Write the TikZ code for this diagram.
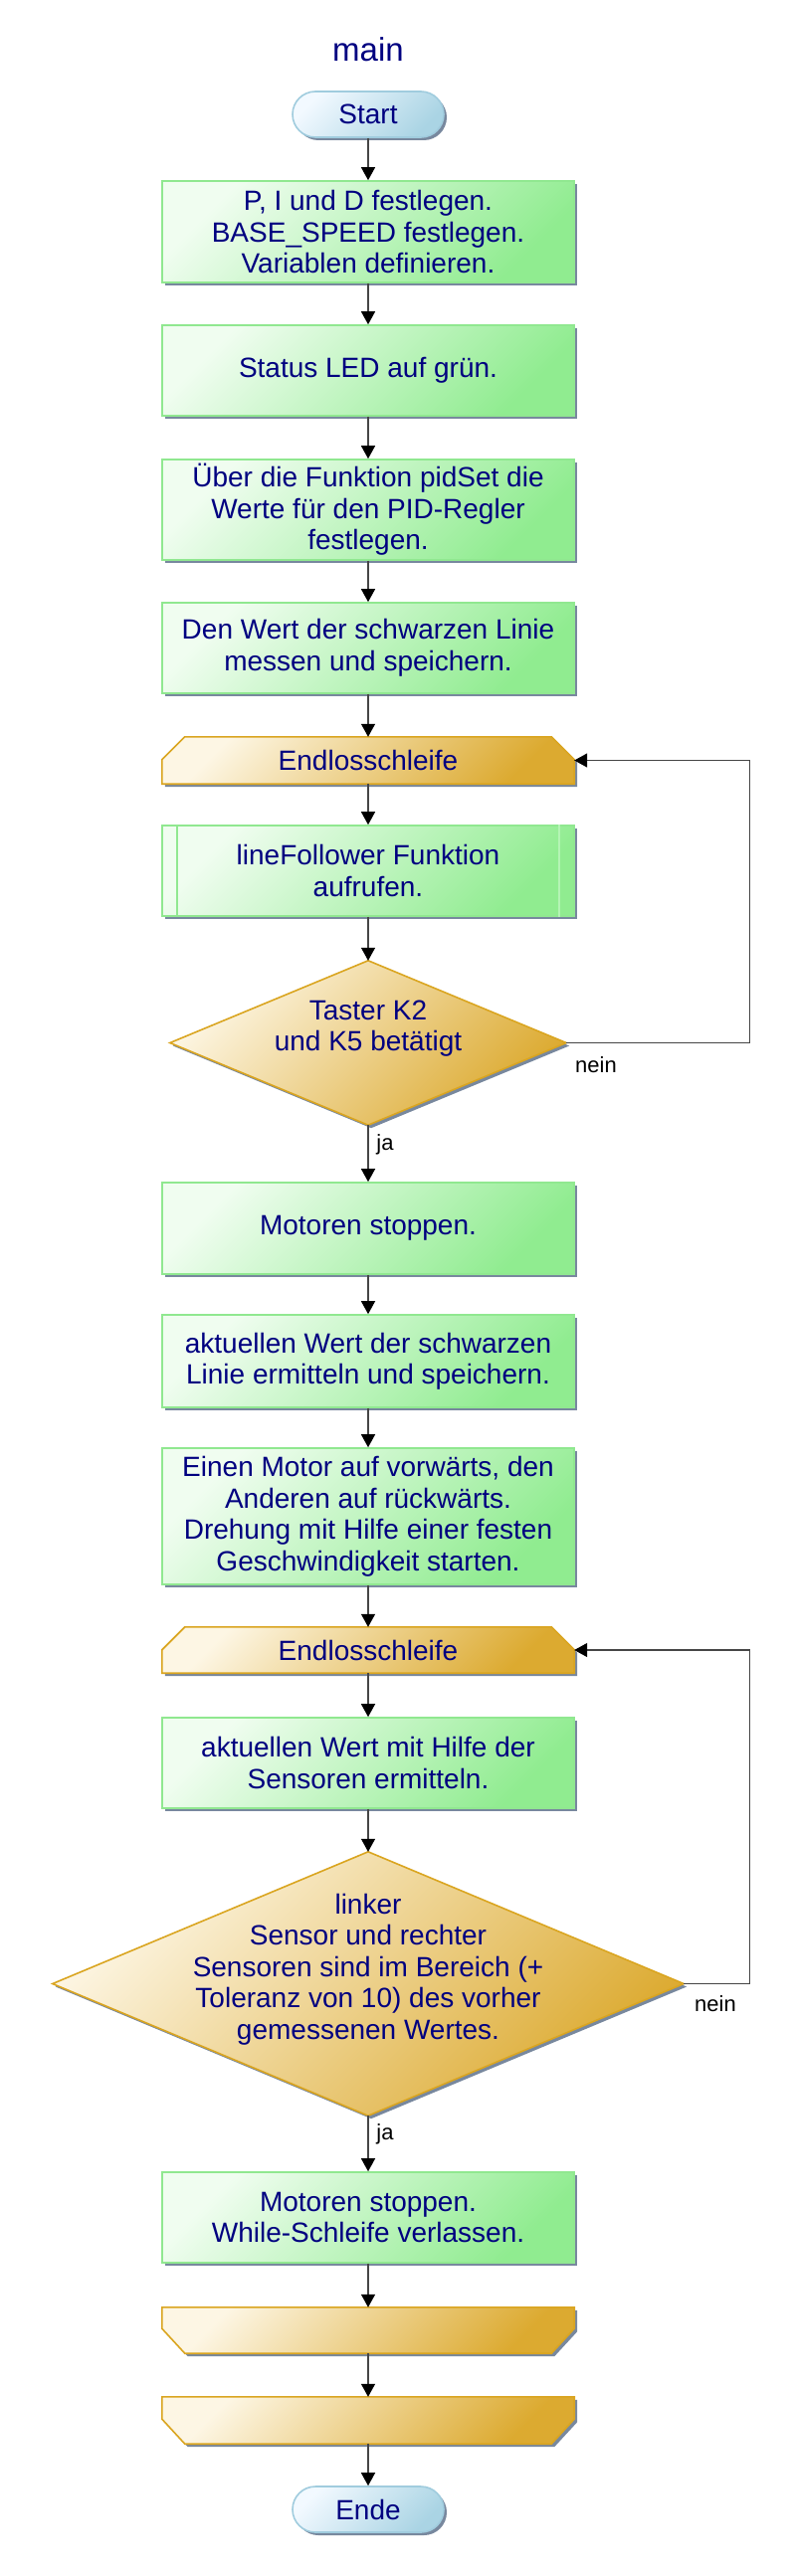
\documentclass[tikz,border=0pt]{standalone}
\usepackage{fontspec}
\setmainfont{Liberation Sans}
\usetikzlibrary{arrows.meta,shadows}
\definecolor{navytxt}{RGB}{0,0,128}
\definecolor{greenb}{RGB}{144,232,144}
\definecolor{greenin}{RGB}{180,244,180}
\definecolor{greenl}{RGB}{240,253,240}
\definecolor{greend}{RGB}{144,236,144}
\definecolor{goldb}{RGB}{218,165,32}
\definecolor{goldl}{RGB}{253,246,228}
\definecolor{goldd}{RGB}{220,170,48}
\definecolor{blueb}{RGB}{160,204,222}
\definecolor{bluel}{RGB}{242,249,255}
\definecolor{blued}{RGB}{170,212,228}
\definecolor{shadowc}{RGB}{120,136,158}
\definecolor{linec}{RGB}{70,70,70}
\pgfdeclarelayer{bg}
\pgfsetlayers{bg,main}
\begin{document}
\begin{tikzpicture}[x=1pt,y=-1pt,
  txt/.style={text=navytxt, font=\fontsize{28}{31.5}\selectfont, align=center, inner sep=0pt},
  shad/.style={drop shadow={shadow xshift=3pt, shadow yshift=-3pt, fill=shadowc, opacity=1}},
  gbox/.style={txt, shad, rectangle, draw=greenb, line width=1.6pt, top color=greenl, bottom color=greend, shading angle=45, minimum width=414pt},
  term/.style={txt, shad, rectangle, draw=blueb, line width=1.6pt, top color=bluel, bottom color=blued, shading angle=45, rounded corners=23pt, minimum width=152pt, minimum height=46pt},
  goldshape/.style={draw=goldb, line width=1.6pt, top color=goldl, bottom color=goldd, shading angle=45, shad},
  frame/.style={txt, rectangle, minimum width=414pt},
  flow/.style={draw=linec, line width=1.2pt, -{Triangle[length=13pt,width=14pt,color=black,fill=black]}},
  lbl/.style={text=black, font=\fontsize{22}{26}\selectfont, inner sep=0pt}
]
\useasboundingbox (0,0) rectangle (796,2590);

\node[text=navytxt, font=\fontsize{33}{38}\selectfont, inner sep=0pt] (title) at (370,50) {main};
\node[term] (start) at (370,115) {Start};
\node[gbox, minimum height=102pt] (b1) at (370,233) {P, I und D festlegen.\\BASE\_SPEED festlegen.\\Variablen definieren.};
\node[gbox, minimum height=91pt] (b2) at (370,372.5) {Status LED auf grün.};
\node[gbox, minimum height=101pt] (b3) at (370,512.5) {Über die Funktion pidSet die\\Werte für den PID-Regler\\festlegen.};
\node[gbox, minimum height=91pt] (b4) at (370,651.5) {Den Wert der schwarzen Linie\\messen und speichern.};
\node[frame, minimum height=47pt] (l1) at (370,764.5) {Endlosschleife};
\node[gbox, minimum height=91pt] (lf) at (370,875.5) {lineFollower Funktion\\aufrufen.};
\node[frame, minimum width=398pt, minimum height=165pt] (d1) at (370,1048.5) {};
\node[txt] (d1t) at (370,1034) {Taster K2\\und K5 betätigt};
\node[gbox, minimum height=92pt] (m1) at (370,1235) {Motoren stoppen.};
\node[gbox, minimum height=93pt] (a1) at (370,1368.5) {aktuellen Wert der schwarzen\\Linie ermitteln und speichern.};
\node[gbox, minimum height=137pt] (e1) at (370,1524.5) {Einen Motor auf vorwärts, den\\Anderen auf rückwärts.\\Drehung mit Hilfe einer festen\\Geschwindigkeit starten.};
\node[frame, minimum height=46pt] (l2) at (370,1659) {Endlosschleife};
\node[gbox, minimum height=91pt] (a2) at (370,1772.5) {aktuellen Wert mit Hilfe der\\Sensoren ermitteln.};
\node[frame, minimum width=634pt, minimum height=265pt] (d2) at (370,1994.5) {};
\node[txt] (d2t) at (370,1980) {linker\\Sensor und rechter\\Sensoren sind im Bereich (+\\Toleranz von 10) des vorher\\gemessenen Wertes.};
\node[gbox, minimum height=91pt] (m2) at (370,2229.5) {Motoren stoppen.\\While-Schleife verlassen.};
\node[frame, minimum height=46pt] (le1) at (370,2343) {};
\node[frame, minimum height=47pt] (le2) at (370,2433.5) {};
\node[term] (ende) at (370,2523) {Ende};

\begin{pgfonlayer}{bg}
\fill[white] (0,0) rectangle (796,2590);
\path[goldshape] ([xshift=23pt]l1.north west) -- ([xshift=-23pt]l1.north east) -- ([yshift=-23pt]l1.north east) -- (l1.south east) -- (l1.south west) -- ([yshift=-23pt]l1.north west) -- cycle;
\path[goldshape] ([xshift=23pt]l2.north west) -- ([xshift=-23pt]l2.north east) -- ([yshift=-23pt]l2.north east) -- (l2.south east) -- (l2.south west) -- ([yshift=-23pt]l2.north west) -- cycle;
\path[goldshape] (le1.north west) -- (le1.north east) -- ([yshift=25pt]le1.south east) -- ([xshift=-23pt]le1.south east) -- ([xshift=23pt]le1.south west) -- ([yshift=25pt]le1.south west) -- cycle;
\path[goldshape] (le2.north west) -- (le2.north east) -- ([yshift=25pt]le2.south east) -- ([xshift=-23pt]le2.south east) -- ([xshift=23pt]le2.south west) -- ([yshift=25pt]le2.south west) -- cycle;
\path[goldshape] (d1.north) -- (d1.east) -- (d1.south) -- (d1.west) -- cycle;
\path[goldshape] (d2.north) -- (d2.east) -- (d2.south) -- (d2.west) -- cycle;
\end{pgfonlayer}

\draw[greenb, line width=1.6pt] ([xshift=16pt]lf.north west) -- ([xshift=16pt]lf.south west);
\draw[greenin, line width=1.6pt] ([xshift=-16pt]lf.north east) -- ([xshift=-16pt]lf.south east);

\draw[flow] (start) -- (b1);
\draw[flow] (b1) -- (b2);
\draw[flow] (b2) -- (b3);
\draw[flow] (b3) -- (b4);
\draw[flow] (b4) -- (l1);
\draw[flow] (l1) -- (lf);
\draw[flow] (lf) -- (d1);
\draw[flow] (d1) -- (m1);
\draw[flow] (m1) -- (a1);
\draw[flow] (a1) -- (e1);
\draw[flow] (e1) -- (l2);
\draw[flow] (l2) -- (a2);
\draw[flow] (a2) -- (d2);
\draw[flow] (d2) -- (m2);
\draw[flow] (m2) -- (le1);
\draw[flow] (le1) -- (le2);
\draw[flow] (le2) -- (ende);
\draw[flow] (d1.east) -- ++(184,0) |- (l1.east);
\draw[flow] (d2.east) -- ++(66,0) |- (l2.east);

\node[lbl] (nein1) at (599,1071) {nein};
\node[lbl] (ja1) at (387,1151) {ja};
\node[lbl] (nein2) at (719,2015) {nein};
\node[lbl] (ja2) at (387,2146) {ja};
\end{tikzpicture}
\end{document}
